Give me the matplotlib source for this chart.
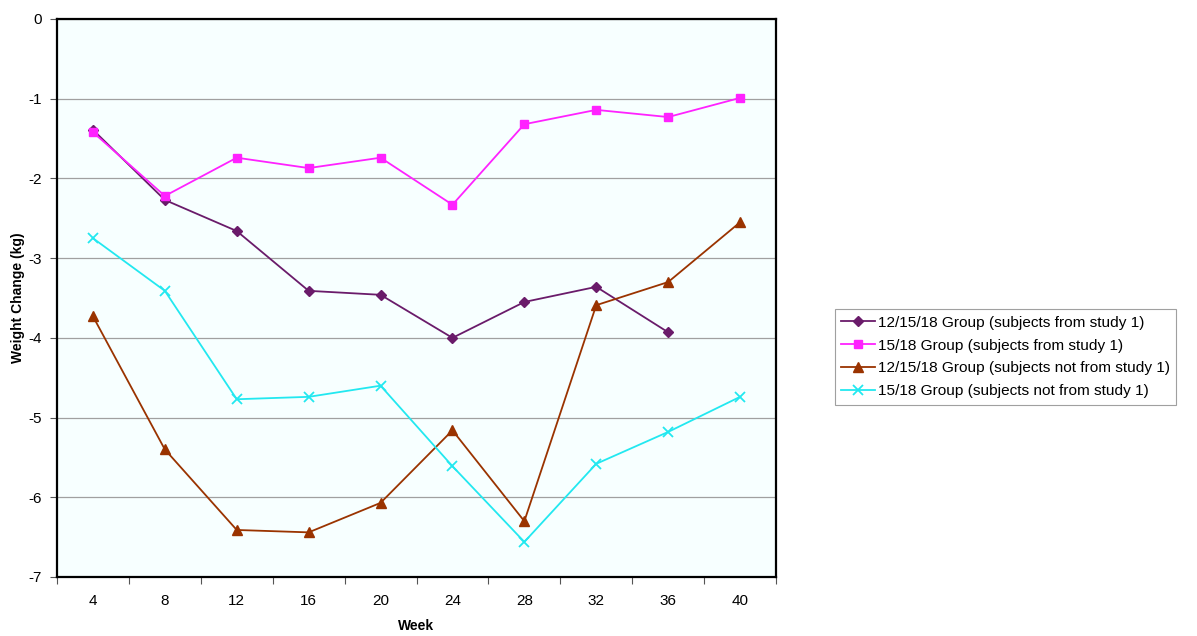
import matplotlib
matplotlib.use("Agg")
import matplotlib.pyplot as plt
import numpy as np

weeks = ["4", "8", "12", "16", "20", "24", "28", "32", "36", "40"]
s1_name = "12/15/18 Group (subjects from study 1)"
s1 = [-1.39, -2.27, -2.66, -3.41, -3.46, -4.0, -3.55, -3.36, -3.93, None]
s2_name = "15/18 Group (subjects from study 1)"
s2 = [-1.42, -2.22, -1.74, -1.87, -1.74, -2.33, -1.32, -1.14, -1.23, -0.99]
s3_name = "12/15/18 Group (subjects not from study 1)"
s3 = [-3.73, -5.40, -6.41, -6.44, -6.07, -5.16, -6.30, -3.59, -3.30, -2.55]
s4_name = "15/18 Group (subjects not from study 1)"
s4 = [-2.75, -3.41, -4.77, -4.74, -4.60, -5.61, -6.56, -5.58, -5.18, -4.74]
yticks = [0, -1, -2, -3, -4, -5, -6, -7]

plt.rcParams['font.family'] = ['Liberation Sans', 'DejaVu Sans']

fig = plt.figure(figsize=(11.97, 6.36), dpi=100)
ax = fig.add_axes([57/1197, 1 - 577/636, (776 - 57)/1197, (577 - 19)/636])
ax.set_facecolor('#F7FFFF')

x = np.arange(len(weeks))

def arr(v):
    return np.array([np.nan if a is None else a for a in v], dtype=float)

ax.plot(x, arr(s1), color='#6A1B6A', marker='D', markersize=5, lw=1.3, label=s1_name, zorder=3)
ax.plot(x, arr(s2), color='#FF22FF', marker='s', markersize=5.5, lw=1.3, label=s2_name, zorder=3)
ax.plot(x, arr(s3), color='#9A3300', marker='^', markersize=7, lw=1.3, label=s3_name, zorder=3)
ax.plot(x, arr(s4), color='#22E8F0', marker='x', markersize=7, mew=1.3, lw=1.3, label=s4_name, zorder=3)

ax.set_ylim(-7, 0)
ax.set_yticks(yticks)
ax.set_yticklabels([str(t) for t in yticks], fontsize=11)
ax.yaxis.grid(True, color='#A0A0A0', lw=0.9)
ax.set_axisbelow(True)

ax.set_xlim(-0.5, len(weeks) - 0.5)
ax.set_xticks(np.arange(-0.5, len(weeks)), minor=False)
ax.set_xticklabels([])
ax.set_xticks(x, minor=True)
ax.set_xticklabels(weeks, minor=True, fontsize=11)
ax.tick_params(axis='x', which='major', length=5, direction='out', color='#555555')
ax.tick_params(axis='x', which='minor', length=0, pad=12)
ax.tick_params(axis='y', length=5, direction='out', color='#555555', pad=6)

for sp in ax.spines.values():
    sp.set_linewidth(1.6)
    sp.set_color('black')

ax.set_xlabel('Week', fontsize=10, fontweight='bold', labelpad=8)
ax.set_ylabel('Weight Change (kg)', fontsize=10, fontweight='bold', labelpad=2)

leg = fig.legend(loc='center left', bbox_to_anchor=(835/1197, 1 - 357/636), fontsize=11.1,
                 frameon=True, fancybox=False, edgecolor='#888888', handlelength=2.2,
                 borderpad=0.4, labelspacing=0.58, handletextpad=0.2, borderaxespad=0)
leg.get_frame().set_linewidth(0.8)

fig.savefig('out.png', dpi=100)
